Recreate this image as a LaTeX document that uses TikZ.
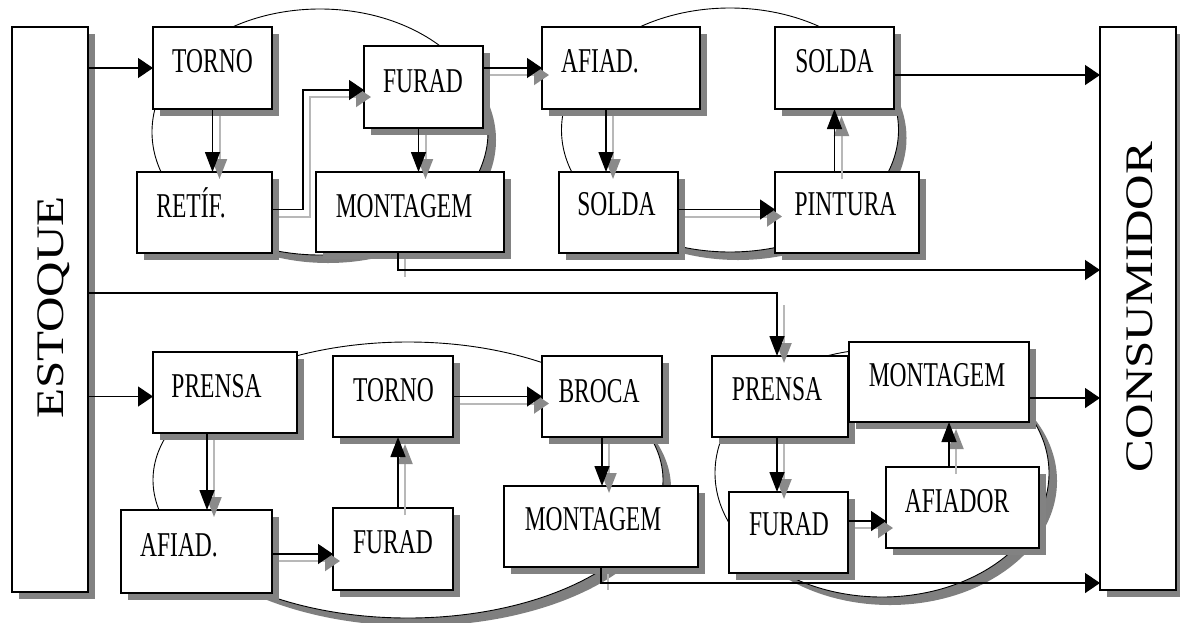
\documentclass[tikz,border=0pt]{standalone}
\usepackage{fontspec}
\setmainfont{Liberation Serif}
\usetikzlibrary{arrows.meta,shadows}
\definecolor{boxshade}{HTML}{828282}
\definecolor{ellshade}{HTML}{7F7F7F}
\definecolor{lineshade}{HTML}{B8B8B8}
\definecolor{headshade}{HTML}{8A8A8A}
% tall condensed look of the cell labels and of the two side labels
\newcommand\tallbox[1]{\scalebox{1}[1.48]{#1}}
\newcommand\longbox[1]{\scalebox{1.26}[1]{#1}}
% \placebox{name}{x1}{y1}{x2}{y2}: framed box between two corners
\newcommand\placebox[5]{%
  \node[box,minimum width={(#4-#2)*1pt},minimum height={(#5-#3)*1pt}]
    (#1) at ({(#2+#4)/2},{(#3+#5)/2}) {};}
\begin{document}
\begin{tikzpicture}[x=1pt,y=-1pt,
  box/.style={draw=black,line width=1.3pt,fill=white,inner sep=0pt,outer sep=0pt,
    drop shadow={shadow xshift=7pt,shadow yshift=-7pt,fill=boxshade,opacity=1}},
  lbl/.style={inner sep=0pt,anchor=base,font=\fontsize{23.5}{24}\selectfont},
  side/.style={inner sep=0pt,anchor=base,rotate=90,font=\fontsize{39}{39}\selectfont},
  harr/.style={line width=1.4pt,-{Triangle[length=15pt,width=20pt]}},
  varr/.style={line width=1.4pt,-{Triangle[length=20pt,width=15pt]}},
  ghost/.style={transform canvas={xshift=7pt,yshift=-7pt},draw=lineshade,line width=2pt},
  hghost/.style={ghost,-{Triangle[length=15pt,width=20pt,color=headshade,fill=headshade]}},
  vghost/.style={ghost,-{Triangle[length=20pt,width=15pt,color=headshade,fill=headshade]}},
  cell/.style={draw=black,line width=0.9pt,fill=white}
]
\useasboundingbox (0,0) rectangle (1180,622);

% cell outlines with their shadows
\fill[ellshade] (328,140) ellipse [x radius=168,y radius=123];
\fill[ellshade] (738,138) ellipse [x radius=168.5,y radius=122];
\fill[ellshade] (416,488) ellipse [x radius=255,y radius=138];
\fill[ellshade] (890,481) ellipse [x radius=167,y radius=124];
\path[cell] (320,132) ellipse [x radius=168,y radius=123];
\path[cell] (730,130) ellipse [x radius=168.5,y radius=122];
\path[cell] (408,480) ellipse [x radius=255,y radius=138];
\path[cell] (882,473) ellipse [x radius=167,y radius=124];

% boxes
\placebox{estoque}{12}{27}{88}{592}
\placebox{consumidor}{1100}{27}{1176}{590}
\placebox{torno1}{153}{27}{272}{109}
\placebox{furad1}{364}{46}{483}{128}
\placebox{retif}{137}{172}{272}{253}
\placebox{mont1}{316}{172}{504}{252}
\placebox{afiad1}{542}{27}{700}{109}
\placebox{solda1}{775}{27}{894}{109}
\placebox{solda2}{559}{172}{678}{253}
\placebox{pintura}{775}{172}{919}{253}
\placebox{prensa1}{153}{352}{297}{433}
\placebox{torno2}{333}{356}{453}{437}
\placebox{broca}{542}{356}{662}{437}
\placebox{afiad2}{121}{510}{272}{593}
\placebox{furad2}{333}{508}{453}{590}
\placebox{mont2}{504}{486}{698}{567}
\placebox{prensa2}{712}{356}{848}{437}
\placebox{mont3}{849}{342}{1029}{422}
\placebox{furad3}{729}{492}{848}{573}
\placebox{afiador}{886}{467}{1039}{548}

% shadows of the flow arrows
\draw[vghost] (torno1.south) -- (torno1.south |- retif.north);
\draw[hghost] ([yshift=3pt]retif.east) -| ([xshift=-61pt,yshift=-3pt]furad1.west) -- ([yshift=-3pt]furad1.west);
\draw[vghost] ([xshift=-5pt]furad1.south) -- ([xshift=-5pt]furad1.south |- mont1.north);
\draw[hghost] (furad1.east |- afiad1.west) -- (afiad1.west);
\draw[vghost] ([xshift=-15pt]afiad1.south) -- ([xshift=-15pt]afiad1.south |- solda2.north);
\draw[hghost] ([yshift=3pt]solda2.east) -- ([yshift=3pt]solda2.east -| pintura.west);
\draw[vghost] (solda1.south |- pintura.north) -- (solda1.south);
\draw[ghost] ([xshift=-12pt]mont1.south) -- ([xshift=-12pt,yshift=-18pt]mont1.south);
\draw[vghost] ([xshift=-3pt,yshift=58pt]prensa2.north) -- ([xshift=-3pt]prensa2.north);
\draw[vghost] ([xshift=-18pt]prensa1.south) -- ([xshift=-18pt]prensa1.south |- afiad2.north);
\draw[hghost] ([yshift=-2.5pt]afiad2.east) -- ([yshift=-2.5pt]afiad2.east -| furad2.west);
\draw[vghost] ([xshift=5pt]furad2.north) -- ([xshift=5pt]furad2.north |- torno2.south);
\draw[hghost] (torno2.east) -- (torno2.east -| broca.west);
\draw[vghost] (broca.south) -- (broca.south |- mont2.north);
\draw[ghost] (mont2.south) -- ([yshift=-16pt]mont2.south);
\draw[vghost] ([xshift=-3pt]prensa2.south) -- ([xshift=-3pt]prensa2.south |- furad3.north);
\draw[hghost] ([yshift=11.5pt]furad3.east) -- ([yshift=11.5pt]furad3.east -| afiador.west);
\draw[vghost] ([xshift=-13.5pt]afiador.north) -- ([xshift=-13.5pt]afiador.north |- mont3.south);

% flow arrows
\draw[harr] (estoque.east |- torno1.west) -- (torno1.west);
\draw[varr] (torno1.south) -- (torno1.south |- retif.north);
\draw[harr] ([yshift=3pt]retif.east) -| ([xshift=-61pt,yshift=-3pt]furad1.west) -- ([yshift=-3pt]furad1.west);
\draw[varr] ([xshift=-5pt]furad1.south) -- ([xshift=-5pt]furad1.south |- mont1.north);
\draw[harr] (furad1.east |- afiad1.west) -- (afiad1.west);
\draw[varr] ([xshift=-15pt]afiad1.south) -- ([xshift=-15pt]afiad1.south |- solda2.north);
\draw[harr] ([yshift=3pt]solda2.east) -- ([yshift=3pt]solda2.east -| pintura.west);
\draw[varr] (solda1.south |- pintura.north) -- (solda1.south);
\draw[harr] ([yshift=-7pt]solda1.east) -- ([yshift=-7pt]solda1.east -| consumidor.west);
\draw[harr] ([xshift=-12pt]mont1.south) |- ([yshift=-18pt]mont1.south -| consumidor.west);
\draw[varr] ([yshift=16.5pt]estoque.east) -| ([xshift=-3pt]prensa2.north);
\draw[harr] ([yshift=-4pt]prensa1.west -| estoque.east) -- ([yshift=-4pt]prensa1.west);
\draw[varr] ([xshift=-18pt]prensa1.south) -- ([xshift=-18pt]prensa1.south |- afiad2.north);
\draw[harr] ([yshift=-2.5pt]afiad2.east) -- ([yshift=-2.5pt]afiad2.east -| furad2.west);
\draw[varr] ([xshift=5pt]furad2.north) -- ([xshift=5pt]furad2.north |- torno2.south);
\draw[harr] (torno2.east) -- (torno2.east -| broca.west);
\draw[varr] (broca.south) -- (broca.south |- mont2.north);
\draw[harr] (mont2.south) |- ([yshift=-16pt]mont2.south -| consumidor.west);
\draw[varr] ([xshift=-3pt]prensa2.south) -- ([xshift=-3pt]prensa2.south |- furad3.north);
\draw[harr] ([yshift=11.5pt]furad3.east) -- ([yshift=11.5pt]furad3.east -| afiador.west);
\draw[varr] ([xshift=-13.5pt]afiador.north) -- ([xshift=-13.5pt]afiador.north |- mont3.south);
\draw[harr] ([yshift=-16pt]mont3.east) -- ([yshift=-16pt]mont3.east -| consumidor.west);

% labels
\node[side] (estoque-t) at (63,307.5) {\longbox{ESTOQUE}};
\node[side] (consumidor-t) at (1152,307) {\longbox{CONSUMIDOR}};
\node[lbl] (torno1-t) at (212.5,72) {\tallbox{TORNO}};
\node[lbl] (furad1-t) at (423,92) {\tallbox{FURAD}};
\node[lbl] (retif-t) at (191,217) {\tallbox{RETÍF.}};
\node[lbl] (mont1-t) at (404,217) {\tallbox{MONTAGEM}};
\node[lbl] (afiad1-t) at (600,72) {\tallbox{AFIAD.}};
\node[lbl] (solda1-t) at (834.5,72) {\tallbox{SOLDA}};
\node[lbl] (solda2-t) at (616.5,215) {\tallbox{SOLDA}};
\node[lbl] (pintura-t) at (845.5,215) {\tallbox{PINTURA}};
\node[lbl] (prensa1-t) at (216.5,397) {\tallbox{PRENSA}};
\node[lbl] (torno2-t) at (393.5,401) {\tallbox{TORNO}};
\node[lbl] (broca-t) at (599,402) {\tallbox{BROCA}};
\node[lbl] (afiad2-t) at (179,556) {\tallbox{AFIAD.}};
\node[lbl] (furad2-t) at (393,553) {\tallbox{FURAD}};
\node[lbl] (mont2-t) at (593,530) {\tallbox{MONTAGEM}};
\node[lbl] (prensa2-t) at (777,400) {\tallbox{PRENSA}};
\node[lbl] (mont3-t) at (937,386) {\tallbox{MONTAGEM}};
\node[lbl] (furad3-t) at (789,535) {\tallbox{FURAD}};
\node[lbl] (afiador-t) at (957,512) {\tallbox{AFIADOR}};
\end{tikzpicture}
\end{document}
